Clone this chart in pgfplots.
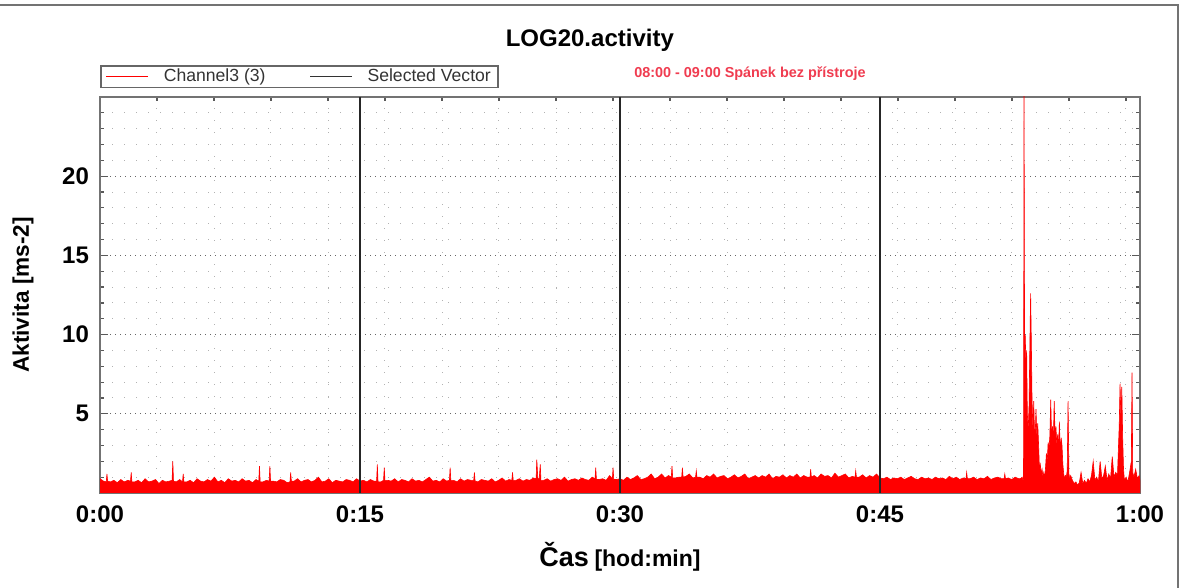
\documentclass[border=0pt]{standalone}
\usepackage{fontspec}
\setmainfont{Liberation Sans}
\usepackage{pgfplots}
\pgfplotsset{compat=1.18}
\definecolor{notered}{RGB}{240,60,80}
\definecolor{sigred}{RGB}{255,0,0}
\begin{document}
\begin{tikzpicture}
\useasboundingbox (0,0) rectangle (591pt,294pt);
\fill[white] (0,0) rectangle (591pt,294pt);
\draw[black!55, line width=1pt] (0,291.5pt) -- (589pt,291.5pt) -- (589pt,0);
\begin{axis}[
  at={(50pt,47.5pt)}, anchor=south west,
  width=520pt, height=198pt, scale only axis,
  xmin=0, xmax=60, ymin=0, ymax=25,
  clip mode=individual,
  xtick={0,15,30,45,60}, xticklabels={0:00,0:15,0:30,0:45,1:00},
  minor xtick={3.288,6.577,9.865,13.154,16.442,19.731,23.019,26.308,29.596,32.885,36.173,39.462,42.75,46.038,49.327,52.615,55.904,59.192},
  ytick={5,10,15,20},
  minor ytick={1,2,3,4,6,7,8,9,11,12,13,14,16,17,18,19,21,22,23,24},
  ymajorgrids, yminorgrids, xminorgrids,
  major grid style={black!60, line width=0.5pt, dash pattern=on 0.5pt off 2pt},
  minor grid style={black!30, line width=0.5pt, dash pattern=on 0.5pt off 5.5pt},
  tick align=inside,
  major tick length=4pt, minor tick length=2pt,
  tick style={black!65, line width=0.6pt},
  axis line style={black!55, line width=1pt},
  /pgf/number format/assume math mode=true,
  ticklabel style={font=\fontsize{12}{14}\selectfont\bfseries},
  xticklabel style={yshift=-3pt},
  yticklabel style={xshift=-2pt},
  title={LOG20.activity},
  title style={font=\bfseries\fontsize{12}{14}\selectfont, at={(axis description cs:0.471,1)}, anchor=center, yshift=22.5pt},
  ylabel={Aktivita [ms-2]},
  ylabel style={font=\bfseries\fontsize{11.3}{13}\selectfont, at={(axis description cs:-0.074,0.5)}, anchor=center},
  xlabel={{\fontsize{13.5}{15}\selectfont Čas} {\fontsize{11.5}{14}\selectfont [hod:min]}},
  xlabel style={font=\bfseries, at={(axis description cs:0.5,0)}, anchor=center, yshift=-32pt},
  legend style={draw=black!60, line width=0.8pt, fill=white, at={(0,1)}, anchor=south west, yshift=4.3pt,
    font=\fontsize{8.8}{10}\selectfont\color{black!80}, legend columns=2, inner xsep=2.5pt, inner ysep=0.5pt,
    nodes={inner sep=1pt},
    /tikz/every odd column/.append style={column sep=6.5pt},
    /tikz/every even column/.append style={column sep=21pt},
    cells={anchor=west}},
  legend image code/.code={\draw[#1] (0pt,0pt) -- (21pt,0pt);},
]
\addplot[draw=sigred, fill=sigred, line width=0.3pt, forget plot] coordinates {
(0,0.9)(0.2,0.75)(0.36,0.7)(0.4,1.2)(0.44,0.75)(0.6,0.7)(0.8,0.8)(1.0,0.65)(1.2,0.85)(1.4,0.7)(1.6,0.8)(1.76,0.75)(1.8,1.3)(1.84,0.7)
(2.0,0.7)(2.2,0.8)(2.4,0.65)(2.6,0.9)(2.8,0.7)(3.0,0.75)(3.2,0.85)(3.4,0.6)(3.6,0.8)(3.8,0.7)
(4.0,0.75)(4.16,0.8)(4.2,2.0)(4.24,0.75)(4.4,0.7)(4.6,0.85)(4.76,0.7)(4.8,1.2)(4.84,0.7)(5.0,0.7)(5.2,0.8)(5.4,0.65)(5.6,0.9)(5.8,0.75)
(6.0,0.7)(6.2,0.85)(6.4,0.75)(6.6,1.0)(6.8,0.7)(7.0,0.8)(7.2,0.65)(7.4,0.9)(7.6,0.75)(7.8,0.8)
(8.0,0.7)(8.2,0.9)(8.4,0.75)(8.6,0.8)(8.8,0.65)(9.0,0.85)(9.16,0.75)(9.2,1.7)(9.24,0.7)(9.4,0.7)(9.6,0.8)(9.76,0.75)(9.8,1.7)(9.84,0.75)
(10.0,0.75)(10.2,0.7)(10.4,0.85)(10.6,0.8)(10.8,0.65)(10.96,0.7)(11.0,1.3)(11.04,0.75)(11.2,0.75)(11.4,0.9)(11.6,0.7)(11.8,0.8)
(12.0,0.85)(12.2,0.7)(12.4,0.8)(12.6,1.0)(12.8,0.7)(13.0,0.75)(13.2,0.9)(13.4,0.65)(13.6,0.8)(13.8,0.75)
(14.0,0.7)(14.2,0.85)(14.4,0.8)(14.6,0.7)(14.8,0.9)(15.0,0.75)(15.2,0.8)(15.4,0.7)(15.6,0.85)(15.8,0.75)
(15.96,0.75)(16.0,1.8)(16.04,0.7)(16.2,0.7)(16.36,0.8)(16.4,1.6)(16.44,0.8)(16.6,0.8)(16.8,0.75)(17.0,0.9)(17.2,0.7)(17.4,0.85)(17.6,0.8)(17.8,0.7)
(18.0,0.9)(18.2,0.75)(18.4,0.8)(18.6,0.7)(18.8,0.85)(19.0,1.0)(19.2,0.75)(19.4,0.8)(19.6,0.7)(19.8,0.9)
(20.0,0.75)(20.16,0.8)(20.2,1.6)(20.24,0.8)(20.4,0.8)(20.6,0.7)(20.8,0.9)(21.0,0.75)(21.2,0.85)(21.4,0.8)(21.56,0.8)(21.6,1.3)(21.64,0.75)(21.8,0.7)
(22.0,0.85)(22.2,0.8)(22.4,0.75)(22.6,0.9)(22.8,0.7)(23.0,0.8)(23.2,0.95)(23.4,0.75)(23.6,0.85)(23.76,0.8)(23.8,1.3)(23.84,0.8)
(24.0,0.8)(24.2,0.9)(24.4,0.75)(24.6,0.85)(24.8,0.8)(25.0,0.95)(25.16,0.9)(25.2,2.1)(25.26,0.9)(25.34,0.9)(25.4,1.8)(25.44,0.8)(25.6,0.8)(25.8,0.9)
(26.0,0.75)(26.2,0.85)(26.4,0.9)(26.6,0.8)(26.8,1.0)(27.0,0.75)(27.2,0.85)(27.4,0.9)(27.6,0.8)(27.8,0.95)
(28.0,0.85)(28.2,0.8)(28.4,1.0)(28.56,0.9)(28.6,1.6)(28.64,0.85)(28.8,0.85)(29.0,0.9)(29.2,0.8)(29.4,1.1)(29.56,0.9)(29.6,1.6)(29.64,0.85)(29.8,0.85)
(30.0,0.9)(30.2,0.8)(30.4,1.0)(30.6,0.85)(30.8,0.95)(31.0,1.1)(31.2,0.85)(31.4,0.9)(31.6,1.0)(31.8,1.2)
(32.0,0.9)(32.2,1.0)(32.4,1.2)(32.6,0.95)(32.8,1.1)(32.96,1.0)(33.0,1.7)(33.04,0.95)(33.2,0.95)(33.4,1.0)(33.56,1.0)(33.6,1.6)(33.64,1.0)(33.8,1.05)
(34.0,1.2)(34.2,0.95)(34.36,1.0)(34.4,1.4)(34.44,1.0)(34.6,1.0)(34.8,0.9)(35.0,1.1)(35.2,1.0)(35.4,1.2)(35.6,0.95)(35.8,1.05)
(36.0,1.1)(36.2,0.9)(36.4,1.0)(36.6,1.15)(36.8,0.95)(37.0,1.05)(37.2,1.2)(37.4,0.9)(37.6,1.0)(37.8,1.1)
(38.0,0.95)(38.2,1.1)(38.4,1.0)(38.6,1.2)(38.8,0.9)(39.0,1.05)(39.2,1.0)(39.4,1.15)(39.6,0.95)(39.8,1.1)
(40.0,1.0)(40.2,1.2)(40.4,0.95)(40.6,1.1)(40.8,1.0)(40.96,1.0)(41.0,1.5)(41.04,1.0)(41.2,1.1)(41.4,0.95)(41.6,1.2)(41.8,1.05)
(42.0,1.1)(42.2,0.95)(42.4,1.25)(42.6,1.0)(42.8,1.1)(43.0,1.2)(43.2,0.95)(43.4,1.05)(43.56,1.0)(43.6,1.4)(43.64,1.0)(43.8,1.0)
(44.0,1.15)(44.2,0.95)(44.4,1.1)(44.6,1.0)(44.8,1.2)(45.0,0.95)(45.2,0.9)(45.4,1.0)(45.6,0.85)(45.8,0.95)
(46.0,0.9)(46.2,1.0)(46.4,0.85)(46.6,0.95)(46.8,1.05)(47.0,0.9)(47.2,0.85)(47.4,1.0)(47.6,0.9)(47.8,0.95)
(48.0,0.85)(48.2,1.0)(48.4,0.9)(48.6,0.95)(48.8,0.85)(49.0,1.05)(49.2,0.9)(49.4,1.0)(49.6,0.85)(49.8,0.95)
(49.96,0.9)(50.0,1.3)(50.04,0.9)(50.2,0.9)(50.4,1.0)(50.6,0.85)(50.8,0.95)(51.0,0.9)(51.2,1.05)(51.4,0.85)(51.6,0.95)(51.8,1.0)
(52.0,0.9)(52.16,0.9)(52.2,1.2)(52.24,0.9)(52.4,0.95)(52.6,0.85)(52.8,1.0)(53.0,0.9)
(53.1,0.9)(53.2,1.0)(53.25,0.8)(53.28,0.9)(53.31,25.5)(53.34,9.8)(53.38,9.9)(53.42,8.0)(53.46,9.0)(53.5,5.0)
(53.55,4.0)(53.6,5.5)(53.65,9.6)(53.69,12.6)(53.73,9.6)(53.77,6.0)(53.82,4.0)(53.87,5.8)(53.92,3.5)(53.97,4.2)
(54.0,5.3)(54.05,3.5)(54.1,4.4)(54.15,3.0)(54.2,1.5)(54.25,1.8)(54.3,1.2)(54.35,1.5)(54.4,1.0)(54.45,1.3)
(54.5,0.9)(54.55,1.6)(54.6,2.5)(54.65,2.0)(54.7,3.2)(54.75,2.8)(54.8,3.6)(54.85,5.9)(54.9,3.5)(54.95,4.2)
(55.0,3.2)(55.05,5.8)(55.1,3.6)(55.15,4.2)(55.2,3.0)(55.25,3.7)(55.3,2.8)(55.35,4.5)(55.4,2.5)(55.45,3.5)
(55.5,3.0)(55.55,1.8)(55.6,1.2)(55.65,0.9)(55.7,1.1)(55.75,1.0)(55.8,1.4)(55.85,5.8)(55.9,1.2)(55.95,0.9)
(56.0,1.1)(56.1,0.8)(56.2,0.6)(56.3,0.7)(56.4,0.5)(56.5,0.65)(56.6,1.3)(56.7,0.6)(56.8,0.8)(56.9,0.6)
(57.0,0.9)(57.1,0.7)(57.2,1.1)(57.3,2.0)(57.4,0.8)(57.5,1.0)(57.6,0.7)(57.7,2.0)(57.8,0.9)(57.9,1.1)
(58.0,1.7)(58.1,0.8)(58.2,1.2)(58.3,0.9)(58.4,2.3)(58.5,1.0)(58.6,1.3)(58.7,1.1)(58.8,4.2)(58.85,6.9)
(58.9,4.5)(58.95,6.7)(59.0,3.5)(59.05,1.5)(59.1,0.8)(59.2,1.0)(59.3,0.7)(59.4,1.3)(59.5,2.0)(59.54,7.6)
(59.58,1.3)(59.65,1.0)(59.75,1.5)(59.85,0.9)(59.95,1.1)(60.0,0.8)
} \closedcycle;
\addplot[black!85, line width=0.8pt, forget plot] coordinates {(15,0) (15,25)};
\addplot[black!85, line width=0.8pt, forget plot] coordinates {(30,0) (30,25)};
\addplot[black!85, line width=0.8pt, forget plot] coordinates {(45,0) (45,25)};
\addlegendimage{sigred, line width=0.5pt}
\addlegendentry{Channel3 (3)}
\addlegendimage{black!80, line width=0.5pt}
\addlegendentry{Selected Vector}
\node[font=\bfseries\fontsize{7.2}{8}\selectfont, text=notered, anchor=center, yshift=11.5pt] at (rel axis cs:0.625,1) {08:00 - 09:00 Spánek bez přístroje};
\end{axis}
\end{tikzpicture}
\end{document}
